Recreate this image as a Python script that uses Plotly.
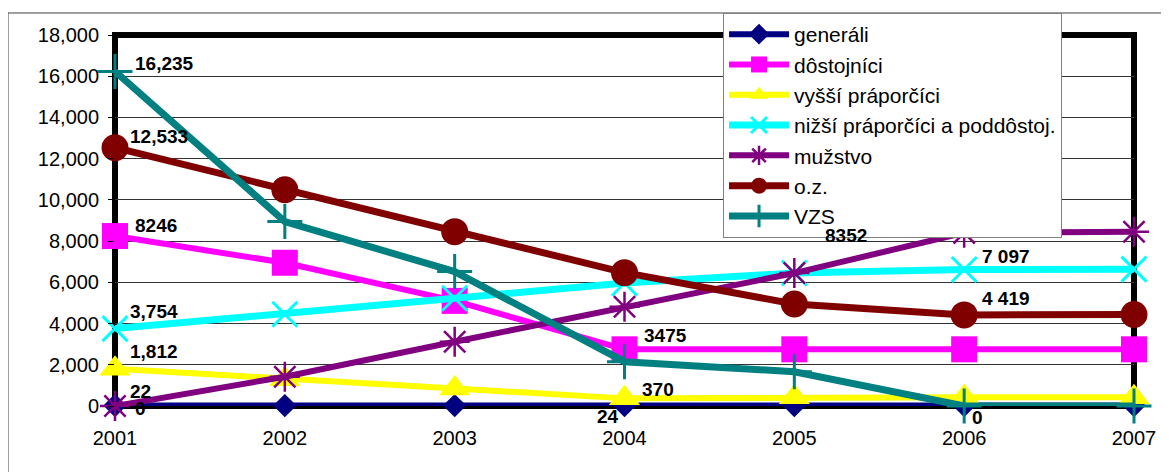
import plotly.graph_objects as go

years = [2001, 2002, 2003, 2004, 2005, 2006, 2007]

generali = [22, 20, 20, 24, 24, 24, 24]
dostojnici = [8246, 6950, 5100, 2750, 2750, 2750, 2750]
vyssi = [1812, 1300, 850, 370, 420, 420, 420]
nizsi = [3754, 4450, 5230, 5970, 6450, 6620, 6640]
muzstvo = [0, 1420, 3120, 4820, 6450, 8400, 8450]
oz = [12533, 10490, 8460, 6470, 4950, 4419, 4440]
vzs = [16235, 8950, 6520, 2150, 1660, 0, 0]

series_names = ["generáli", "dôstojníci", "vyšší práporčíci",
                "nižší práporčíci a poddôstoj.", "mužstvo", "o.z.", "VZS"]
series_values = [generali, dostojnici, vyssi, nizsi, muzstvo, oz, vzs]
colors = ["#000080", "#FF00FF", "#FFFF00", "#00FFFF", "#800080", "#800000", "#008080"]
symbols = ["diamond", "square", "triangle-up", "x-thin", "asterisk-open", "circle", "cross-thin"]
msizes = [18, 26, 27, 25, 25, 27, 25]
mlines = [0, 0, 0, 3, 2.5, 0, 3]
lwidths = [6, 6, 6, 7, 6, 7, 7]

y_ticks = [0, 2000, 4000, 6000, 8000, 10000, 12000, 14000, 16000, 18000]

# data labels: (series index, point index, text, xshift, yshift, xanchor)
labels = [
    (6, 0, "16,235", 18, 8, "left"),
    (5, 0, "12,533", 13, 11, "left"),
    (1, 0, "8246", 18, 11, "left"),
    (3, 0, "3,754", 13, 17, "left"),
    (2, 0, "1,812", 13, 17, "left"),
    (0, 0, "22", 13, 14, "left"),
    (4, 0, "0", 18, -2, "left"),
    (1, 3, "3475", 17, 14, "left"),
    (2, 3, "370", 15, 9, "left"),
    (0, 3, "24", -4, -11, "right"),
    (4, 5, "8352", -95, -3, "right"),
    (3, 5, "7 097", 16, 13, "left"),
    (5, 5, "4 419", 16, 16, "left"),
    (6, 5, "0", 6, -11, "left"),
]

fig = go.Figure()
for name, vals, c, sym, ms, ml, lw in zip(series_names, series_values, colors,
                                           symbols, msizes, mlines, lwidths):
    fig.add_trace(go.Scatter(
        x=years, y=vals, name=name, mode="lines+markers",
        line=dict(color=c, width=lw),
        marker=dict(symbol=sym, size=ms, color=c, line=dict(color=c, width=ml)),
        cliponaxis=False,
    ))

annotations = []
for si, pi, txt, dx, dy, xa in labels:
    annotations.append(dict(
        x=years[pi], y=series_values[si][pi], text="<b>" + txt + "</b>", showarrow=False,
        xanchor=xa, yanchor="middle", xshift=dx, yshift=dy,
        font=dict(family="Liberation Sans, Arial, sans-serif", size=19, color="black"),
    ))

# page body has an 8px margin: figure is sized/positioned to compensate
fig.update_layout(
    width=1161, height=464,
    margin=dict(l=107, r=35, t=27, b=66, autoexpand=False),
    paper_bgcolor="white", plot_bgcolor="white",
    font=dict(family="Liberation Sans, Arial, sans-serif", color="black"),
    showlegend=True,
    legend=dict(
        x=0.5967, y=1.0593, xanchor="left", yanchor="top",
        bgcolor="white", bordercolor="#808080", borderwidth=1,
        font=dict(size=21, family="Liberation Sans, Arial, sans-serif"),
        itemwidth=60, tracegroupgap=0,
    ),
    annotations=annotations,
    shapes=[
        dict(type="rect", xref="x domain", yref="y domain", x0=0, x1=1, y0=0, y1=1,
             line=dict(color="black", width=6), layer="below"),
        dict(type="rect", xref="paper", yref="paper", x0=-0.105, x1=1.2, y0=-0.3, y1=1.0593,
             line=dict(color="#404040", width=1), layer="below"),
    ],
)
fig.update_xaxes(
    range=[2001, 2007], tickvals=years, ticktext=[str(y) for y in years],
    showgrid=False, zeroline=False, showline=False, ticks="",
    tickfont=dict(size=20), ticklabelstandoff=18,
)
fig.update_yaxes(
    range=[0, 18000], tickvals=y_ticks, tickformat=",d",
    showgrid=True, gridcolor="#333333", gridwidth=1, zeroline=False, showline=False,
    ticks="outside", ticklen=6, tickcolor="black", tickwidth=1,
    tickfont=dict(size=20), ticklabelstandoff=5,
)
fig.write_html("out.html")
